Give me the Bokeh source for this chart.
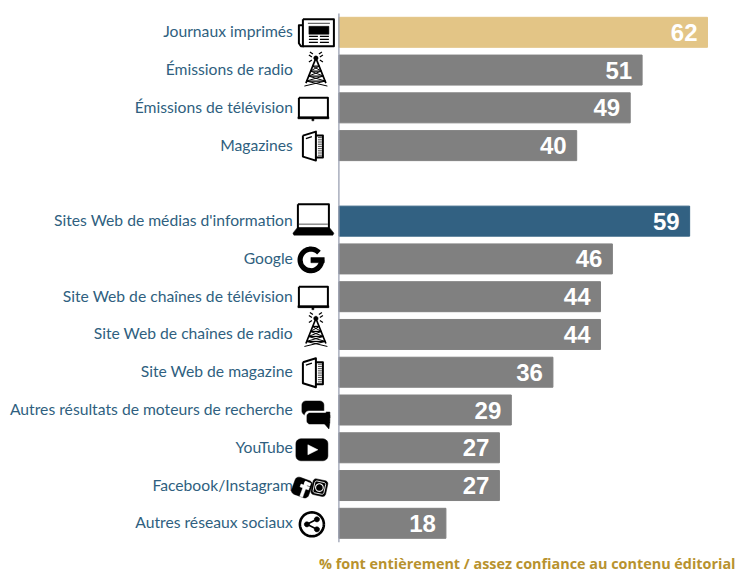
import math
from bokeh.plotting import figure
from bokeh.models import Range1d, ColumnDataSource
from bokeh.core.properties import value
from bokeh.embed import file_html
from bokeh.resources import INLINE

categories = ["Journaux imprimés", "Émissions de radio", "Émissions de télévision", "Magazines",
              "Sites Web de médias d'information", "Google", "Site Web de chaînes de télévision",
              "Site Web de chaînes de radio", "Site Web de magazine",
              "Autres résultats de moteurs de recherche", "YouTube", "Facebook/Instagram",
              "Autres réseaux sociaux"]
rows = [0, 1, 2, 3, 5, 6, 7, 8, 9, 10, 11, 12, 13]
values = [62, 51, 49, 40, 59, 46, 44, 44, 36, 29, 27, 27, 18]
GOLD, GREY, BLUE = "#e3c586", "#808080", "#326182"
colors = [GOLD, GREY, GREY, GREY, BLUE] + [GREY] * 8
icons = ["news", "tower", "tv", "mag", "laptop", "google", "tv", "tower", "mag", "chat", "yt", "fbig", "share"]
footer = "% font entièrement / assez confiance au contenu éditorial"

W, H = 740, 576
AX = 338.4          # axis position inside frame
SX = 5.945          # px per unit
ROW0 = 31.8         # first row centre inside frame
SY = 37.77          # px per row

p = figure(width=W, height=H, output_backend="svg", toolbar_location=None, min_border=0,
           x_range=Range1d(-AX / SX, (W - AX) / SX),
           y_range=Range1d((H - ROW0) / SY, -ROW0 / SY),
           x_axis_type="linear", tools="")
p.axis.visible = False
p.grid.visible = False
p.outline_line_color = None

src = ColumnDataSource(dict(y=rows, v=values, c=colors, cat=categories,
                            lab=[str(v) for v in values]))
p.hbar(y="y", left=0, right="v", height=30 / SY, color="c", source=src)

# vertical axis line
p.segment(x0=[0], x1=[0], y0=[-0.5], y1=[13.5], line_color="#9aa0b2", line_width=1.3)

p.text(x="v", y="y", text="lab", source=src, text_color="white", text_align="right",
       text_baseline="middle", text_font=value("Liberation Sans"), text_font_style="bold",
       text_font_size="24px", x_offset=-10, y_offset=0, text_line_height=1.0)
p.text(x=0, y="y", text="cat", source=src, text_color="#2f5f80", text_align="right",
       text_baseline="middle", text_font=value("Lato"), text_font_size="15.7px",
       x_offset=-46, y_offset=-1)
p.text(x=[(735 - AX) / SX], y=[(563 - ROW0) / SY], text=[footer], text_color="#b8922e", text_align="right",
       text_baseline="middle", text_font=value("Open Sans"), text_font_style="bold",
       text_font_size="14.4px")

# ---- icons, drawn in pixel offsets from the axis / row centre ----
fills = []   # (xs, ys, color)
lines = []   # (xs, ys, width, color)


def F(pts, c="black"):
    fills.append(([q[0] for q in pts], [q[1] for q in pts], c))


def L(pts, w=1.5, c="black"):
    lines.append(([q[0] for q in pts], [q[1] for q in pts], w, c))


def box(x0, y0, x1, y1):
    return [(x0, y0), (x1, y0), (x1, y1), (x0, y1)]


def closed(pts):
    return pts + [pts[0]]


def circ(cx, cy, r, a0=0, a1=360, n=40):
    return [(cx + r * math.cos(math.radians(a0 + (a1 - a0) * i / n)),
             cy + r * math.sin(math.radians(a0 + (a1 - a0) * i / n))) for i in range(n + 1)]


def rbox(x0, y0, x1, y1, r):
    out = []
    for cx, cy, a in [(x1 - r, y0 + r, -90), (x1 - r, y1 - r, 0), (x0 + r, y1 - r, 90), (x0 + r, y0 + r, 180)]:
        out += circ(cx, cy, r, a, a + 90, 6)
    return out


def rot(pts, cx, cy, deg):
    c, s = math.cos(math.radians(deg)), math.sin(math.radians(deg))
    return [(cx + (x - cx) * c - (y - cy) * s, cy + (x - cx) * s + (y - cy) * c) for x, y in pts]


def news(x, y):
    L(closed(box(x + 4, y - 13, x + 35, y + 14)), 2)
    L([(x + 4, y - 7), (x, y - 7), (x, y + 11), (x + 2, y + 14), (x + 5, y + 14)], 2)
    L([(x + 9, y - 9), (x + 31, y - 9)], 1, "#444444")
    F(box(x + 10, y - 6, x + 30, y + 2))
    for d in (4, 7, 10):
        L([(x + 10, y + d), (x + 19, y + d)], 1.2)
        L([(x + 21, y + d), (x + 30, y + d)], 1.2)


def tower(x, y):
    tx = x + 11
    L([(tx, y - 11), (tx - 10, y + 14)], 1.7)
    L([(tx, y - 11), (tx + 10, y + 14)], 1.7)
    for d, hw in ((-3, 3.5), (2, 5.5), (7, 7.5), (12, 9.5)):
        L([(tx - hw, y + d), (tx + hw, y + d)], 1.3)
        L([(tx - hw, y + d), (tx + hw + 2, y + d + 5)], 1.0)
        L([(tx + hw, y + d), (tx - hw - 2, y + d + 5)], 1.0)
    F(circ(tx, y - 11, 2.2))
    for sx in (-1, 1):
        L([(tx + sx * 4, y - 12), (tx + sx * 7, y - 14)], 1.2)
        L([(tx + sx * 3, y - 15), (tx + sx * 6, y - 17)], 1.2)
        L([(tx + sx * 4, y - 9), (tx + sx * 7, y - 7)], 1.2)


def tv(x, y):
    L(closed(box(x + 1, y - 10, x + 30, y + 10)), 2)
    F(box(x, y + 9, x + 31, y + 11))
    F(box(x + 14, y + 10, x + 16, y + 13))


def mag(x, y):
    L(closed([(x + 5, y - 10), (x + 18, y - 14), (x + 18, y + 15), (x + 5, y + 11)]), 2)
    L([(x + 18, y - 10), (x + 25, y - 10), (x + 25, y + 12), (x + 18, y + 12)], 2)
    L([(x + 8, y - 7), (x + 14, y - 9)], 1.3)
    for i in range(9):
        L([(x + 20, y - 8 + i * 2.2), (x + 24, y - 8 + i * 2.2)], 0.9, "#333333")


def laptop(x, y):
    L(closed(box(x + 5, y - 17, x + 36, y + 7)), 2)
    L([(x + 6, y + 3), (x + 35, y + 3)], 1, "#555555")
    F([(x + 4, y + 7), (x + 37, y + 7), (x + 41, y + 12), (x + 40, y + 14), (x + 1, y + 14), (x, y + 12)])


def google(x, y):
    cx, cy = x + 13, y + 1
    L(circ(cx, cy, 10.8, -42, -360), 5.2)
    F(box(cx, cy - 2.4, cx + 13.4, cy + 2.8))


def chat(x, y):
    F(rbox(x + 0, y - 9, x + 22, y + 5, 4))
    F([(x + 3, y + 3), (x + 10, y + 3), (x + 4, y + 9)])
    F(rbox(x + 3, y + 1, x + 29, y + 15, 4), "white")
    F(rbox(x + 5, y + 3, x + 28, y + 14, 3))
    F([(x + 21, y + 12), (x + 28, y + 12), (x + 27, y + 19)])
    F([(x + 24, y + 2), (x + 28, y + 2), (x + 28, y + 8)])


def yt(x, y):
    F(rbox(x + 0, y - 9, x + 32, y + 13, 5))
    F([(x + 12, y - 3), (x + 22, y + 2), (x + 12, y + 7)], "white")


def fbig(x, y):
    F(rot(rbox(x - 1, y - 8, x + 17, y + 10, 4), x + 8, y + 1, 20))
    F(rot(box(x + 9, y - 6, x + 12, y + 10), x + 8, y + 1, 20), "white")
    F(rot(box(x + 6, y - 2, x + 15, y + 1), x + 8, y + 1, 20), "white")
    F(rot(box(x + 9, y - 6, x + 15, y - 3), x + 8, y + 1, 20), "white")
    r = rot(rbox(x + 18, y - 7, x + 33, y + 9, 3), x + 25, y + 1, 12)
    F(r)
    L(circ(x + 25.5, y + 1, 3.8), 1.1, "white")
    L(closed(rot(rbox(x + 20, y - 5, x + 31, y + 7, 2), x + 25, y + 1, 12)), 0.9, "white")


def share(x, y):
    cx, cy = x + 17, y + 1
    L(circ(cx, cy, 12), 2.6)
    n = [(cx + 5, cy - 5), (cx - 5, cy), (cx + 5, cy + 5)]
    L(n, 1.6)
    for a, b in n:
        F(circ(a, b, 2.6, n=16))


draw = dict(news=news, tower=tower, tv=tv, mag=mag, laptop=laptop, google=google,
            chat=chat, yt=yt, fbig=fbig, share=share)
# left edge and vertical shift of each icon, in px relative to the axis and row centre
icon_dx = dict(news=-40, tower=-34, tv=-41, mag=-41, laptop=-46, google=-41, chat=-37,
               yt=-43, fbig=-45, share=-44)
icon_dy = dict(news=0, tower=-1, tv=0, mag=0, laptop=0, google=0, chat=0, yt=0, fbig=1, share=0)
row_shift = {8: -4}

for r, name, in zip(rows, icons):
    draw[name](icon_dx[name], icon_dy[name] + row_shift.get(r, 0))
    fx = [[q / SX for q in f[0]] for f in fills]
    fy = [[r + q / SY for q in f[1]] for f in fills]
    if fills:
        p.patches(fx, fy, fill_color=[f[2] for f in fills], line_color=[f[2] for f in fills], line_width=0.5)
    lx = [[q / SX for q in l[0]] for l in lines]
    ly = [[r + q / SY for q in l[1]] for l in lines]
    if lines:
        p.multi_line(lx, ly, line_width=[l[2] for l in lines], line_color=[l[3] for l in lines],
                     line_join="round")
    fills.clear()
    lines.clear()

open("out.html", "w").write(file_html(p, INLINE))
